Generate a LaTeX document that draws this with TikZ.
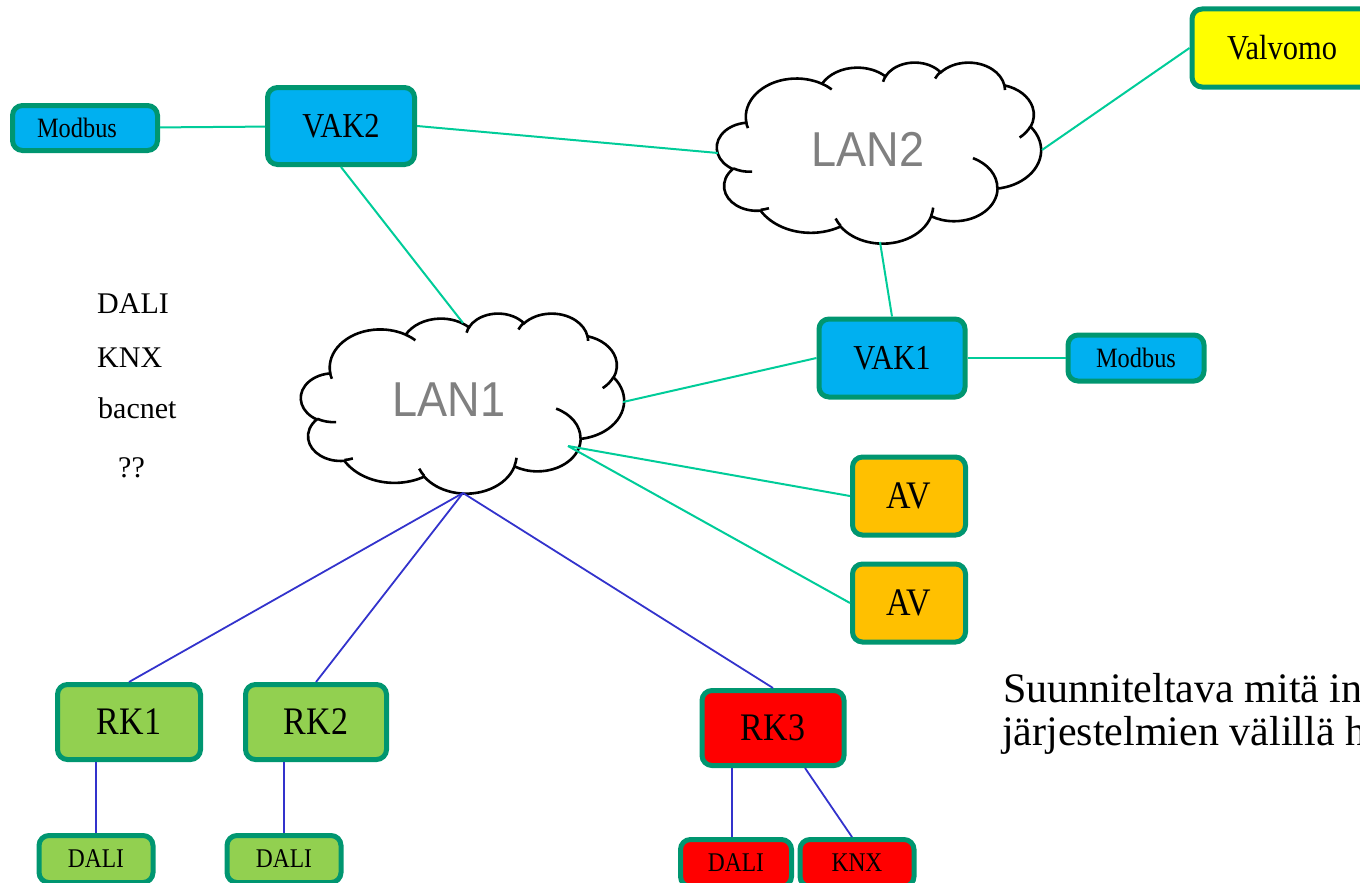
\documentclass[tikz,border=0pt]{standalone}
\usepackage{fontspec}
\setmainfont{Liberation Serif}
\newfontfamily\cond{Liberation Serif}[FakeStretch=0.87]
\newfontfamily\lansans{Liberation Sans}[FakeStretch=0.92]

\definecolor{bdr}{RGB}{0,150,112}
\definecolor{skyb}{RGB}{0,176,240}
\definecolor{yel}{RGB}{255,255,0}
\definecolor{org}{RGB}{255,192,0}
\definecolor{lgr}{RGB}{146,208,80}
\definecolor{redb}{RGB}{255,0,0}
\definecolor{lnG}{RGB}{0,204,153}
\definecolor{lnB}{RGB}{51,51,204}
\definecolor{lanT}{RGB}{128,128,128}

\newcommand\mkarc[5]{%
  \pgfmathsetmacro\mkts{atan2((#2)*sin(#4),(#3)*cos(#4))}%
  \pgfmathsetmacro\mkte{atan2((#2)*sin((#4)+(#5)),(#3)*cos((#4)+(#5)))}%
  \pgfmathsetmacro\mkd{mod(\mkte-(\mkts)+720,360)}%
  \edef\mktmp{\noexpand\tikzset{#1/.style={start angle=\mkts, delta angle=\mkd, x radius=#2, y radius=#3}}}%
  \mktmp}

\mkarc{coA}{67.53}{91.90}{-190.48748}{123.78053}
\mkarc{coB}{53.33}{72.67}{-144.10238}{89.94523}
\mkarc{coC}{43.65}{59.45}{-145.80792}{99.72302}
\mkarc{coD}{48.57}{65.95}{-130.98607}{117.24173}
\mkarc{coE}{53.33}{72.73}{-78.70888}{109.02692}
\mkarc{coF}{67.75}{92.20}{-46.26725}{130.269}
\mkarc{coG}{57.85}{78.67}{0.62502}{114.03333}
\mkarc{coH}{67.52}{92.15}{22.4516}{115.17255}
\mkarc{coI}{77.20}{105.43}{66.24263}{75.71102}
\mkarc{coJ}{43.60}{59.18}{-274.94208}{146.73557}
\mkarc{coK}{43.45}{59.45}{-246.8285}{152.51885}

\mkarc{ciA}{43.45}{59.45}{86.742}{26.4295}
\mkarc{ciB}{43.60}{59.18}{73.61047}{11.44747}
\mkarc{ciC}{67.52}{92.15}{137.62415}{14.0811}
\mkarc{ciD}{67.52}{92.15}{6.45327}{15.99835}
\mkarc{ciE}{57.85}{78.67}{-70.29235}{70.91737}
\mkarc{ciF}{53.33}{72.73}{30.31803}{27.7515}
\mkarc{ciG}{48.57}{65.95}{-13.74433}{14.8589}
\mkarc{ciH}{48.57}{65.95}{-149.18145}{18.19537}
\mkarc{ciI}{43.65}{59.45}{-163.49427}{20.58522}
\mkarc{ciJ}{67.53}{91.90}{-66.70695}{12.31935}
\mkarc{ciK}{67.53}{91.90}{156.68085}{12.90033}

\newcommand\lancloud[4]{%
  \begin{scope}[shift={(#1,#2)},x=1pt,y=1pt,xscale=#3,yscale=#4]
    \draw[cloudline,fill=white] (39.00,143.70) arc[coA] arc[coB] arc[coC] arc[coD]
      arc[coE] arc[coF] arc[coG] arc[coH] arc[coI] arc[coJ] arc[coK] -- cycle;
    \draw[cloudline] (46.93,261.77) arc[ciA] (69.28,348.99) arc[ciB]
      (164.78,390.90) arc[ciC] (288.27,347.51) arc[ciD] (341.29,229.54) arc[ciE]
      (417.98,153.54) arc[ciF] (383.24,54.26) arc[ciG] (290.78,39.52) arc[ciH]
      (221.41,47.20) arc[ciI] (140.00,51.92) arc[ciJ] (41.27,157.89) arc[ciK];
  \end{scope}}

\newcommand\fvak{\cond\fontsize{35}{40}\selectfont}
\newcommand\frk{\cond\fontsize{39}{44}\selectfont}
\newcommand\fmod{\cond\fontsize{28}{32}\selectfont}
\newcommand\fsm{\cond\fontsize{27}{31}\selectfont}
\newcommand\flan{\lansans\fontsize{49}{55}\selectfont}
\newcommand\fleft{\fontsize{30}{34}\selectfont}
\newcommand\fnote{\fontsize{42}{47}\selectfont}

\tikzset{
  box/.style={draw=bdr, line width=5pt, rounded corners=10pt, inner sep=0pt, align=center},
  cloudline/.style={draw=black, line width=2.6pt},
  conn/.style={draw=lnG, line width=2pt},
  bus/.style={draw=lnB, line width=1.8pt},
}

\begin{document}
\begin{tikzpicture}[x=1pt,y=-1pt]
\useasboundingbox (0,0) rectangle (1360,883);
\clip (0,0) rectangle (1360,883);

% clouds
\lancloud{717}{62}{0.75}{-0.419}
\lancloud{301}{313}{0.7477}{-0.4167}
\node[text=lanT, font=\flan, inner sep=0pt] (lan2) at (868,149) {LAN2};
\node[text=lanT, font=\flan, inner sep=0pt] (lan1) at (449,400) {LAN1};

\coordinate (lan2w) at (718,153);
\coordinate (lan2e) at (1042,150);
\coordinate (lan2s) at (880,242);
\coordinate (lan1n) at (463,323);
\coordinate (lan1e) at (623,402);
\coordinate (lan1x) at (568,446);
\coordinate (lan1b) at (463,493);

% boxes
\node[box, fill=skyb, minimum width=145, minimum height=45, font=\fmod] (modL) at (85,128) {Modbus\hspace*{16pt}};
\node[box, fill=skyb, minimum width=147, minimum height=77, font=\fvak] (vak2) at (341,126) {VAK2};
\node[box, fill=yel, minimum width=180, minimum height=78, font=\fvak] (valv) at (1282,48) {Valvomo};
\node[box, fill=skyb, minimum width=146, minimum height=78, font=\fvak] (vak1) at (892,358) {VAK1};
\node[box, fill=skyb, minimum width=136, minimum height=46, font=\fmod] (modR) at (1136,358) {Modbus};
\node[box, fill=org, minimum width=113, minimum height=78, font=\frk] (av1) at (909,496) {AV};
\node[box, fill=org, minimum width=113, minimum height=78, font=\frk] (av2) at (909,603) {AV};
\node[box, fill=lgr, minimum width=143, minimum height=75, font=\frk] (rk1) at (129,722) {RK1};
\node[box, fill=lgr, minimum width=141, minimum height=75, font=\frk] (rk2) at (316,722) {RK2};
\node[box, fill=redb, minimum width=142, minimum height=75, font=\frk] (rk3) at (773,728) {RK3};
\node[box, fill=lgr, minimum width=114, minimum height=47, font=\fsm] (dali1) at (96,859) {DALI};
\node[box, fill=lgr, minimum width=114, minimum height=47, font=\fsm] (dali2) at (284,859) {DALI};
\node[box, fill=redb, minimum width=111, minimum height=47, font=\fsm] (dali3) at (736,863) {DALI};
\node[box, fill=redb, minimum width=114, minimum height=47, font=\fsm] (knx) at (857,863) {KNX};

% connectors
\draw[conn] (modL) -- (vak2);
\draw[conn] (vak2.east) -- (lan2w);
\draw[conn] (vak2.south) -- (lan1n);
\draw[conn] (lan2e) -- (valv.west);
\draw[conn] (lan2s) -- (vak1.north);
\draw[conn] (lan1e) -- (vak1.west);
\draw[conn] (vak1) -- (modR);
\draw[conn] (lan1x) -- (av1.west);
\draw[conn] (lan1x) -- (av2.west);

\draw[bus] (lan1b) -- (rk1.north);
\draw[bus] (lan1b) -- (rk2.north);
\draw[bus] (lan1b) -- (rk3.north);
\draw[bus] (dali1.north |- rk1.south) -- (dali1.north);
\draw[bus] (dali2.north |- rk2.south) -- (dali2.north);
\draw[bus] ([xshift=-4pt]dali3.north |- rk3.south) -- ([xshift=-4pt]dali3.north);
\draw[bus] ([xshift=32pt]rk3.south) -- ([xshift=-5pt]knx.north);

% free texts
\node[anchor=base west, inner sep=0pt, font=\fleft] (tdali) at (97,313) {DALI};
\node[anchor=base west, inner sep=0pt, font=\fleft] (tknx) at (97,367) {KNX};
\node[anchor=base west, inner sep=0pt, font=\fleft] (tbac) at (98,418) {bacnet};
\node[anchor=base west, inner sep=0pt, font=\fleft] (tq) at (118,477) {??};

\node[anchor=base west, inner sep=0pt, font=\fnote] (note1) at (1003,702) {Suunniteltava mitä in};
\node[anchor=base west, inner sep=0pt, font=\fnote] (note2) at (1002,745) {järjestelmien välillä h};
\end{tikzpicture}
\end{document}
